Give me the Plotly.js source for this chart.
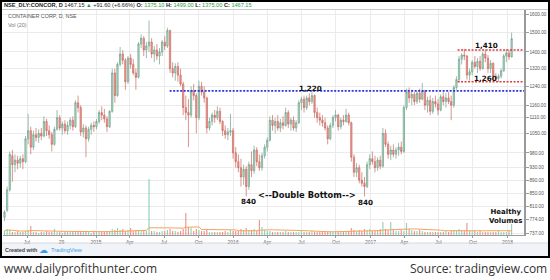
<!DOCTYPE html>
<html><head><meta charset="utf-8">
<script src="https://cdn.plot.ly/plotly-3.0.1.min.js"></script>
<style>html,body{margin:0;padding:0;background:#fff;overflow:hidden}#chart{width:550px;height:280px}</style>
</head><body><div id="chart"></div>
<script>
// ---- data (weekly bars, first week ending 2014-05-02) ----
const firstWeek = '2014-05-02';
const open = [780,800,860,970,940,955,945,960,950,1030,1060,1000,1045,1035,1050,1040,1095,1060,1045,1010,1065,1110,1070,1085,1060,1080,1100,1075,1170,1150,1055,1070,1030,1065,1080,1075,1095,1130,1120,1105,1075,1135,1300,1200,1340,1390,1360,1260,1370,1340,1300,1280,1440,1470,1410,1430,1450,1390,1410,1380,1400,1450,1430,1510,1320,1300,1330,1290,1250,1150,1130,1120,1220,1200,1110,1240,1215,1190,1070,1095,1120,1110,1135,1095,1060,1045,1055,1060,980,950,930,900,925,870,940,920,990,950,930,970,1000,1025,1100,1080,1095,1070,1090,1080,1130,1085,1100,1070,1090,1170,1185,1150,1190,1175,1200,1130,1110,1100,1090,1070,1030,1080,1110,1120,1075,1100,1095,1120,1090,965,915,930,890,880,870,940,960,950,930,955,935,1050,1010,975,990,975,990,1000,985,1150,1215,1190,1205,1175,1210,1185,1220,1160,1180,1135,1175,1165,1140,1195,1175,1190,1175,1160,1235,1270,1365,1385,1380,1290,1305,1350,1330,1355,1320,1390,1370,1320,1345,1285,1275,1285,1310,1380,1395,1375.10];
const high = [800,870,985,990,975,970,970,975,1040,1125,1075,1060,1070,1065,1070,1115,1105,1080,1055,1075,1140,1120,1095,1100,1095,1110,1115,1180,1200,1160,1085,1080,1075,1090,1095,1105,1140,1155,1145,1115,1140,1320,1320,1350,1425,1410,1370,1380,1390,1365,1320,1450,1490,1480,1450,1565,1470,1430,1440,1420,1460,1480,1525,1515,1350,1345,1350,1320,1260,1200,1185,1240,1250,1210,1265,1260,1240,1195,1110,1130,1140,1155,1150,1100,1080,1070,1125,1070,1000,975,960,940,935,950,985,1005,1000,975,980,1010,1035,1115,1120,1110,1120,1105,1115,1150,1140,1110,1115,1100,1180,1195,1200,1200,1210,1225,1205,1150,1130,1120,1110,1080,1090,1120,1140,1125,1110,1120,1145,1130,1095,975,945,940,915,900,950,975,985,970,965,970,1070,1065,1020,1005,1010,1000,1015,1020,1160,1230,1235,1225,1215,1220,1230,1255,1225,1195,1200,1190,1200,1185,1205,1215,1210,1215,1200,1245,1285,1380,1395,1415,1385,1320,1360,1380,1370,1380,1400,1412,1385,1360,1350,1300,1295,1320,1390,1415,1410,1499];
const low = [770,795,855,885,915,925,930,925,945,1010,975,990,1020,1015,1025,1035,1040,1030,985,1005,1060,1060,1045,1050,1045,1065,1060,1070,1130,1040,1035,965,1020,1045,1055,1065,1085,1100,1090,1055,1070,1130,1170,1195,1330,1340,1225,1250,1320,1290,1225,1275,1420,1380,1370,1400,1370,1350,1360,1340,1380,1410,1420,1300,1280,1265,1260,1240,1120,1100,1000,1110,1180,1050,1100,1200,1170,1050,1060,1080,1090,1100,1085,1040,1030,1025,1040,960,930,915,870,875,840,860,900,910,935,920,920,960,985,1020,1060,1050,1060,1055,1065,1075,1070,1060,1060,1055,1085,1140,1130,1140,1160,1165,1110,1090,1080,1075,1060,1010,1025,1070,1095,1060,1065,1080,1090,1080,950,900,900,880,870,840,865,925,940,915,920,925,930,1000,960,955,965,960,970,975,980,1140,1170,1160,1160,1165,1170,1180,1140,1130,1120,1125,1150,1120,1135,1160,1150,1165,1100,1150,1225,1260,1340,1360,1270,1265,1290,1320,1300,1310,1315,1350,1300,1300,1270,1262,1260,1275,1305,1350,1360,1375];
const close = [795,860,975,940,955,945,960,950,1030,1060,1000,1045,1035,1050,1040,1095,1060,1045,1010,1065,1110,1070,1085,1060,1080,1100,1075,1170,1150,1055,1070,1030,1065,1080,1075,1095,1130,1120,1105,1075,1135,1300,1200,1340,1390,1360,1260,1370,1340,1300,1280,1440,1470,1410,1430,1450,1390,1410,1380,1400,1450,1430,1510,1320,1300,1330,1290,1250,1150,1130,1120,1220,1200,1110,1240,1215,1190,1070,1095,1120,1110,1135,1095,1060,1045,1055,1060,980,950,930,900,925,870,940,920,990,950,930,970,1000,1025,1100,1080,1095,1070,1090,1080,1130,1085,1100,1070,1090,1170,1185,1150,1190,1175,1200,1130,1110,1100,1090,1070,1030,1080,1110,1120,1075,1100,1095,1120,1090,965,915,930,890,880,870,940,960,950,930,955,935,1050,1010,975,990,975,990,1000,985,1150,1215,1190,1205,1175,1210,1185,1220,1160,1180,1135,1175,1165,1140,1195,1175,1190,1175,1160,1235,1270,1365,1385,1380,1290,1305,1350,1330,1355,1320,1390,1370,1320,1345,1285,1275,1285,1310,1380,1395,1375.55,1467.15];
const volume = [4,6,5,3,3,4,3,3,4,5, 9, 3,3,2,3,3,4,3,3,6,3, 3,2,3,3,3,3,4,4,3,3, 4,3,2,3,3,3,3,3,4,4, 6,5,7,5,6,4,5,7,4,5, 5,5,4,4,56,4,4,3,3,4, 4,5,6,4,4,3,4,6,22,8, 7,4,6,5,4,4,5,3,3,3, 3,3,3,4,3,5,4,4,4,6, 5,7,5,5,6,4,15,8,5,4, 4,3,3,3,3,3,4,3,3,3, 3,3,4,3,3,3,4,3,3,3, 3,3,3,4,3,4,3,3,4,3, 4,7,5,4,5,4,6,5,6,4, 4,5,6,13,6,5,13,5,4,4, 5,4,12,6,5,4,4,5,4,3, 3,3,3,3,3,3,3,4,3,4, 5,5,6,5,4,12,4,4,4,3, 4,3,3,3,3,3,3,4,3,3, 3,4,11];
const supportLevel = [1220];
const rangeLevels = [1410, 1260];
const yTickVals = [737,774,810,850,890,930,980,1050,1110,1160,1240,1320,1400,1500,1600];
const xTickVals = ['2014-07-01','2014-10-01','2015-01-01','2015-04-01','2015-07-01','2015-10-01','2016-01-01','2016-04-01','2016-07-01','2016-10-01','2017-01-01','2017-04-01','2017-07-01','2017-10-01','2018-01-01'];
const xTickText = ['Jul','29','2015','Apr','Jul','Oct','2016','Apr','Jul','Oct','2017','Apr','Jul','Oct','2018'];

// ---- derived ----
const dates = open.map((_, i) => { const d = new Date(firstWeek + 'T00:00:00Z'); d.setUTCDate(d.getUTCDate() + 7 * i); return d.toISOString().slice(0, 10); });
const volColors = open.map((o, i) => close[i] >= o ? 'rgba(120,205,168,0.85)' : 'rgba(240,125,115,0.85)');
const volMA = volume.map((_, i) => { const s = volume.slice(Math.max(0, i - 19), i + 1); return s.reduce((a, b) => a + b, 0) / s.length; });
const n = close.length;
const last = {o: open[n-1], h: high[n-1], l: low[n-1], c: close[n-1]};
const chg = last.c - close[n-2];
const pct = chg / close[n-2] * 100;

// ---- layout helpers (pixel -> paper) ----
const L = 3, R = 524, T = 10, B = 235;
const PX = p => (p - L) / (R - L);
const PY = p => (B - p) / (B - T);
const xEnd = '2018-02-14';

const traces = [
  {type: 'bar', x: dates, y: volume, yaxis: 'y2', marker: {color: volColors, line: {width: 0}}, width: 3 * 86400000, hoverinfo: 'skip'},
  {type: 'scatter', mode: 'lines', x: dates, y: volMA, yaxis: 'y2', line: {color: '#f5a25d', width: 1}, hoverinfo: 'skip'},
  {type: 'candlestick', x: dates, open: open, high: high, low: low, close: close, whiskerwidth: 0,
   increasing: {line: {color: '#6f9f8a', width: 0.7}, fillcolor: '#b4e0cb'},
   decreasing: {line: {color: '#c8675e', width: 0.7}, fillcolor: '#f3a39a'}, hoverinfo: 'skip'},
  {type: 'scatter', mode: 'lines', x: ['2015-07-16', xEnd], y: [supportLevel[0], supportLevel[0]], line: {color: '#2f35e0', width: 1.6, dash: '2px,1.5px'}, hoverinfo: 'skip'},
  {type: 'scatter', mode: 'lines', x: ['2017-08-21', xEnd], y: [rangeLevels[0], rangeLevels[0]], line: {color: '#e23a3a', width: 1.6, dash: '2px,1.5px'}, hoverinfo: 'skip'},
  {type: 'scatter', mode: 'lines', x: ['2017-08-21', xEnd], y: [rangeLevels[1], rangeLevels[1]], line: {color: '#e23a3a', width: 1.6, dash: '2px,1.5px'}, hoverinfo: 'skip'}
];

const G = '#1f9e3e';
const ann = (x, y, text, opts) => Object.assign({xref: 'paper', yref: 'paper', x: PX(x), y: PY(y), text: text, showarrow: false, xanchor: 'center', yanchor: 'middle'}, opts || {});
const boldNum = {family: 'DejaVu Sans, sans-serif', size: 7.2, color: '#111', weight: 'bold'};

const header = '<b>NSE_DLY:CONCOR, D</b> ' + last.c.toFixed(2) + ' <span style="color:' + G + '">▲</span> +' + chg.toFixed(2) + ' (+' + pct.toFixed(2) + '%) ' +
  '<b>O:</b> <span style="color:' + G + '">' + last.o.toFixed(2) + '</span> ' +
  '<b>H:</b> <span style="color:' + G + '">' + last.h.toFixed(2) + '</span> ' +
  '<b>L:</b> <span style="color:' + G + '">' + last.l.toFixed(2) + '</span> ' +
  '<b>C:</b> <span style="color:' + G + '">' + last.c.toFixed(2) + '</span>';

const annotations = [
  ann(2, 4.8, header, {xanchor: 'left', font: {size: 5.6, color: '#222', family: 'Liberation Sans, Arial, sans-serif'}}),
  ann(6, 16.5, 'CONTAINER CORP, D, NSE', {xanchor: 'left', font: {size: 5.4, color: '#555'}}),
  ann(6, 25, 'Vol (20)', {xanchor: 'left', font: {size: 5.4, color: '#777'}}),
  ann(310, 88.5, '1,220', {font: boldNum}),
  ann(486.5, 45, '1,410', {font: boldNum}),
  ann(485, 78.5, '1,260', {font: boldNum}),
  ann(248.5, 201.5, '840', {font: boldNum}),
  ann(365, 202.5, '840', {font: boldNum}),
  ann(307, 195, '&lt;--Double Bottom--&gt;', {font: {family: 'DejaVu Sans, sans-serif', size: 8.3, color: '#111', weight: 'bold'}}),
  ann(505, 216.5, 'Healthy<br>Volumes', {font: {family: 'DejaVu Sans, sans-serif', size: 7, color: '#111', weight: 'bold'}}),
  ann(3, 250, '<b>Created with</b>', {xanchor: 'left', font: {size: 5.4, color: '#444'}}),
  ann(43, 249.5, '☁', {font: {size: 9, color: '#3b9de8', family: 'DejaVu Sans'}}),
  ann(49, 250, 'TradingView', {xanchor: 'left', font: {size: 5.6, color: '#3b9de8'}}),
  ann(2, 268.5, 'www.dailyprofithunter.com', {xanchor: 'left', font: {size: 12, color: '#333', family: 'Open Sans, sans-serif'}}),
  ann(549, 268.5, 'Source: tradingview.com', {xanchor: 'right', font: {size: 12, color: '#333', family: 'Open Sans, sans-serif'}})
];

const shapes = [
  {type: 'rect', xref: 'paper', yref: 'paper', x0: PX(1), x1: PX(549), y0: PY(243), y1: PY(257), fillcolor: '#f0f3f8', line: {width: 0}, layer: 'below'},
  {type: 'line', xref: 'paper', yref: 'paper', x0: PX(1), x1: PX(549), y0: PY(243), y1: PY(243), line: {color: '#d6d9de', width: 1}},
  {type: 'line', xref: 'paper', yref: 'paper', x0: PX(1), x1: PX(549), y0: PY(9.5), y1: PY(9.5), line: {color: '#c9c9c9', width: 1}},
  {type: 'rect', xref: 'paper', yref: 'paper', x0: PX(1), x1: PX(549), y0: PY(257), y1: PY(1), line: {color: '#000', width: 2}, fillcolor: 'rgba(0,0,0,0)'}
];

const layout = {
  width: 550, height: 280, margin: {l: L, r: 550 - R, t: T, b: 280 - B},
  paper_bgcolor: '#fff', plot_bgcolor: '#fff', showlegend: false, dragmode: false,
  font: {family: 'Liberation Sans, Arial, sans-serif', color: '#555'},
  xaxis: {type: 'date', range: ['2014-04-28', xEnd], tickvals: xTickVals, ticktext: xTickText,
    tickfont: {size: 5, color: '#666'}, showgrid: true, gridcolor: '#ebebeb', gridwidth: 1,
    showline: true, linecolor: '#9a9a9a', linewidth: 1, ticks: 'outside', ticklen: 2, tickcolor: '#9a9a9a',
    rangeslider: {visible: false}, zeroline: false, fixedrange: true},
  yaxis: {type: 'log', side: 'right', range: [Math.log10(733), Math.log10(1624)], tickvals: yTickVals,
    ticktext: yTickVals.map(v => v.toFixed(2)), tickfont: {size: 4.7, color: '#555'},
    showgrid: true, gridcolor: '#ebebeb', gridwidth: 1, showline: true, linecolor: '#9a9a9a', linewidth: 1.5,
    ticks: 'outside', ticklen: 3, tickcolor: '#9a9a9a', zeroline: false, fixedrange: true},
  yaxis2: {overlaying: 'y', range: [0, 225], visible: false, fixedrange: true},
  shapes: shapes, annotations: annotations
};

Plotly.newPlot('chart', traces, layout, {displayModeBar: false, staticPlot: true});
</script>
</body></html>
